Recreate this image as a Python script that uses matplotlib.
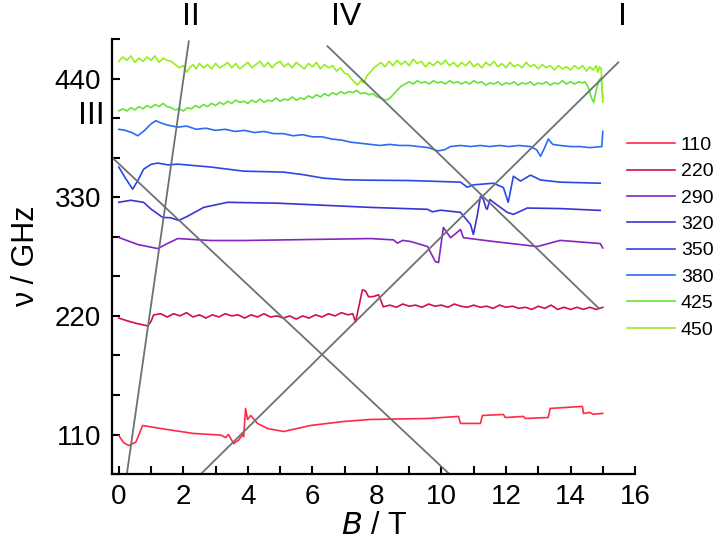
import numpy as np
import matplotlib
matplotlib.use("Agg")
import matplotlib.pyplot as plt
from matplotlib.ticker import MultipleLocator, FixedLocator, FuncFormatter

plt.rcParams['font.family'] = ['Liberation Sans', 'DejaVu Sans']

#%% spectra (B in T, trace offset in GHz units)
freqs = ['110', '220', '290', '320', '350', '380', '425', '450']
colors = ['#ff2a45', '#d0104f', '#8424c4', '#3a34d4', '#2a48e6', '#2a6cf2', '#66e23a', '#96ee1c']

b_110 = [0.0, 0.15, 0.31, 0.53, 0.74, 1.3, 2.32, 3.16, 3.31, 3.4, 3.56, 3.72, 3.84, 3.87, 3.93,
         3.99, 4.09, 4.3, 4.61, 5.11, 5.94, 6.97, 7.8, 9.57, 10.53, 10.59, 11.21, 11.27, 11.92,
         11.98, 12.54, 12.6, 13.31, 13.37, 14.37, 14.4, 14.6, 14.7, 15.0]
v_110 = [109, 102.5, 99.8, 103, 118.4, 115.6, 111, 109.5, 107.2, 110, 101.6, 105, 110, 108, 134.2,
         124, 127.7, 120.3, 115.6, 112.8, 118.4, 122.1, 124, 124.9, 126.8, 120.3, 120.3, 127.7, 128.6,
         125.8, 126.8, 124.9, 125.8, 134.2, 136.1, 129.6, 130.5, 128.8, 129.6]

b_220 = [0.0, 0.2, 0.37, 0.55, 0.7, 0.9, 1.0, 1.08, 1.3, 1.5, 1.7, 1.9, 2.1, 2.3, 2.5, 2.7, 2.9,
         3.1, 3.3, 3.5, 3.7, 3.9, 4.1, 4.3, 4.5, 4.7, 4.9, 5.1, 5.3, 5.5, 5.7, 5.9, 6.1, 6.3, 6.5,
         6.7, 6.9, 7.1, 7.25, 7.34, 7.45, 7.55, 7.65, 7.74, 7.9, 8.05, 8.2, 8.4, 8.6, 8.8, 9.0,
         9.2, 9.4, 9.6, 9.8, 10.0, 10.2, 10.4, 10.6, 10.8, 11.0, 11.2, 11.4, 11.6, 11.8, 12.0,
         12.2, 12.4, 12.6, 12.8, 13.0, 13.2, 13.4, 13.6, 13.8, 14.0, 14.2, 14.4, 14.6, 14.8, 15.0]
v_220 = [218, 216, 214.5, 213, 212, 210.7, 215, 220.9, 222, 219, 222, 220, 223, 219, 221, 218, 221,
         219, 222, 220, 221, 218, 221, 219, 222, 219, 220, 218, 220, 217, 220, 218, 221, 219, 222,
         220, 223, 221, 222, 214.4, 230, 244.2, 243, 237.7, 238, 239.6, 228.4, 230, 228, 231, 229,
         230, 228, 231, 229, 230, 228, 231, 229, 228, 230, 228, 229, 227, 230, 228,
         229, 227, 228, 226, 229, 227, 230, 226, 228, 226, 228, 226, 228, 226, 228]

b_290 = [0.0, 0.59, 1.21, 1.5, 1.83, 2.85, 3.87, 7.8, 8.51, 8.64, 8.8, 9.04, 9.57, 9.81, 9.91,
         10.06, 10.28, 10.43, 10.59, 10.68, 11.61, 12.97, 13.68, 14.92, 15.0]
v_290 = [292.7, 286.2, 282.4, 287, 291.7, 289.9, 289.9, 291.7, 290.5, 287.5, 290, 289, 284.3, 270.3, 269.5,
         302, 292.5, 296, 300.1, 292.5, 289, 284.3, 290, 287.1, 283]

b_320 = [0.0, 0.37, 0.77, 1.0, 1.36, 1.61, 1.86, 2.14, 2.63, 3.37, 4.92, 7.8, 9.57, 9.72, 9.97,
         10.59, 10.9, 10.99, 11.11, 11.21, 11.3, 11.38, 11.42, 11.5, 11.61, 12.04, 12.23, 12.66,
         13.68, 14.92]
v_320 = [325.3, 327.2, 325.3, 319, 311.3, 311, 308.5, 312.5, 320.6, 325.3, 324.5, 320.6, 318.8, 316.5, 318,
         316, 304.8, 295.5, 313, 330.9, 328, 320, 318.8, 328, 325.3, 316, 314.1, 320,
         319.5, 317.8]

b_350 = [0.0, 0.2, 0.43, 0.6, 0.77, 1.0, 1.21, 1.52, 1.83, 2.85, 3.87, 5.11, 5.7, 6.35, 7.0, 7.8,
         9.0, 10.59, 10.8, 10.99, 11.61, 11.92, 12.07, 12.23, 12.45, 12.76, 13.07, 13.68, 14.92]
v_350 = [358, 348, 337.5, 346, 356, 360.5, 361.7, 360, 360.7, 358, 354.2, 353.3, 351, 347.7, 346.2, 345.8,
         345.5, 344, 339.3, 341.5, 343, 339, 325.3, 349.5, 345, 350.5, 346, 344, 343]

b_380 = [0.0, 0.2, 0.4, 0.59, 0.8, 1.0, 1.15, 1.3, 1.5, 1.83, 2.1, 2.4, 2.7, 3.0, 3.3, 3.6, 3.9,
         4.2, 4.5, 4.8, 5.1, 5.4, 5.7, 6.0, 6.3, 6.6, 6.9, 7.2, 7.5, 7.8, 8.1, 8.4, 8.7, 9.0, 9.3,
         9.6, 9.88, 10.1, 10.28, 10.6, 10.9, 11.2, 11.5, 11.8, 12.1, 12.4, 12.76, 12.95, 13.07,
         13.2, 13.31, 13.45, 13.68, 14.0, 14.3, 14.6, 14.97, 15.0]
v_380 = [393, 392, 390, 387, 392, 398, 401, 399, 397, 395, 396, 393, 394, 392, 393, 391, 392,
         390, 391, 389, 389, 387, 388, 386, 386, 384, 383, 381, 380, 379, 378, 379, 378, 378, 377,
         376, 373, 374, 377, 378, 377, 378, 377, 378, 377, 378, 377, 374, 368,
         376, 384, 379, 378, 377, 377, 376, 377, 391]

# the two noisy top traces as (B, v) pairs
pts_425 = [(0.0, 410), (0.125, 412), (0.25, 410), (0.375, 413), (0.5, 411), (0.625, 414),
           (0.75, 412), (0.875, 415), (1.0, 413), (1.125, 416), (1.25, 414), (1.375, 417),
           (1.5, 414), (1.625, 413), (1.75, 411), (1.875, 412), (2.0, 410), (2.125, 413),
           (2.25, 412), (2.375, 415), (2.5, 413), (2.625, 416), (2.75, 414), (2.875, 417),
           (3.0, 415), (3.125, 418), (3.25, 416), (3.375, 419), (3.5, 417), (3.625, 420),
           (3.75, 418), (3.875, 419), (4.0, 417), (4.125, 420), (4.25, 418), (4.375, 421),
           (4.5, 418), (4.625, 420), (4.75, 419), (4.875, 422), (5.0, 419), (5.125, 421),
           (5.25, 420), (5.375, 423), (5.5, 420), (5.625, 422), (5.75, 421), (5.875, 424),
           (6.0, 422), (6.125, 425), (6.25, 423), (6.375, 426), (6.5, 424), (6.625, 427),
           (6.75, 425), (6.875, 428), (7.0, 426), (7.125, 428), (7.25, 427), (7.375, 429),
           (7.5, 426), (7.625, 427), (7.75, 425), (7.875, 426), (8.0, 423), (8.125, 422),
           (8.25, 420), (8.375, 421), (8.5, 425), (8.625, 429), (8.75, 433), (8.875, 435),
           (9.0, 437), (9.125, 435), (9.25, 438), (9.375, 436), (9.5, 437), (9.625, 435),
           (9.75, 438), (9.875, 436), (10.0, 437), (10.125, 435), (10.25, 438), (10.375, 436),
           (10.5, 437), (10.625, 435), (10.75, 437), (10.875, 435), (11.0, 438), (11.125, 436),
           (11.25, 437), (11.375, 434), (11.5, 436), (11.625, 435), (11.75, 437), (11.875, 434),
           (12.0, 436), (12.125, 435), (12.25, 437), (12.375, 434), (12.5, 436), (12.625, 435),
           (12.75, 437), (12.875, 434), (13.0, 436), (13.125, 435), (13.25, 437), (13.375, 434),
           (13.5, 436), (13.625, 435), (13.75, 438), (13.875, 435), (14.0, 437), (14.125, 435),
           (14.25, 437), (14.375, 436), (14.45, 437), (14.55, 432), (14.65, 422), (14.72, 418),
           (14.8, 430), (14.88, 438), (14.95, 441), (15.0, 422)]

pts_450 = [(0.0, 456), (0.125, 460), (0.25, 457), (0.375, 461), (0.5, 455), (0.625, 459),
           (0.75, 456), (0.875, 460), (1.0, 457), (1.125, 461), (1.25, 455), (1.375, 459),
           (1.5, 457), (1.625, 456), (1.75, 453), (1.875, 450), (2.0, 452), (2.1, 446),
           (2.2, 450), (2.3, 453), (2.4, 449), (2.5, 454), (2.625, 450), (2.75, 453),
           (2.875, 449), (3.0, 454), (3.125, 450), (3.25, 452), (3.375, 455), (3.5, 450),
           (3.625, 454), (3.75, 449), (3.875, 452), (4.0, 455), (4.125, 450), (4.25, 453),
           (4.375, 456), (4.5, 451), (4.625, 455), (4.75, 450), (4.875, 454), (5.0, 456),
           (5.125, 451), (5.25, 454), (5.375, 450), (5.5, 455), (5.625, 452), (5.75, 449),
           (5.875, 454), (6.0, 451), (6.125, 455), (6.25, 449), (6.375, 453), (6.5, 450),
           (6.625, 452), (6.75, 447), (6.875, 450), (7.0, 445), (7.1, 444), (7.2, 440),
           (7.3, 437), (7.4, 434), (7.5, 438), (7.6, 436), (7.7, 443), (7.8, 446),
           (7.9, 450), (8.0, 452), (8.125, 455), (8.25, 451), (8.375, 456), (8.5, 452),
           (8.625, 457), (8.75, 453), (8.875, 456), (9.0, 452), (9.125, 458), (9.25, 454),
           (9.375, 456), (9.5, 451), (9.625, 455), (9.75, 452), (9.875, 456), (10.0, 453),
           (10.125, 457), (10.25, 452), (10.375, 455), (10.5, 451), (10.625, 455), (10.75, 452),
           (10.875, 456), (11.0, 451), (11.125, 454), (11.25, 450), (11.375, 455), (11.5, 452),
           (11.625, 456), (11.75, 451), (11.875, 454), (12.0, 450), (12.125, 455), (12.25, 451),
           (12.375, 453), (12.5, 450), (12.625, 455), (12.75, 451), (12.875, 453), (13.0, 449),
           (13.125, 453), (13.25, 450), (13.375, 452), (13.5, 448), (13.625, 452), (13.75, 449),
           (13.875, 451), (14.0, 448), (14.125, 452), (14.25, 449), (14.375, 452), (14.5, 447),
           (14.6, 451), (14.7, 448), (14.8, 452), (14.85, 446), (14.9, 451), (14.95, 449),
           (15.0, 418)]

b_425 = [p[0] for p in pts_425]
v_425 = [p[1] for p in pts_425]
b_450 = [p[0] for p in pts_450]
v_450 = [p[1] for p in pts_450]

traces_b = [b_110, b_220, b_290, b_320, b_350, b_380, b_425, b_450]
traces_v = [v_110, v_220, v_290, v_320, v_350, v_380, v_425, v_450]

# resonance branches (end points)
branch_names = ['I', 'II', 'III', 'IV']
branch_b = [[2.54, 15.48], [0.25, 2.17], [-0.19, 10.25], [6.47, 14.86]]
branch_v = [[73.3, 455], [73.3, 474.5], [366.4, 73.3], [470, 227.5]]
label_b = [15.6, 2.23, -0.85, 7.06]
label_v = [497.5, 497.5, 405.0, 497.5]

#%% plot
fig = plt.figure(figsize=(7.2, 5.5), dpi=100)
ax = fig.add_axes([0.156, 0.138, 0.726, 0.791])

for b, v, c, f in zip(traces_b, traces_v, colors, freqs):
    ax.plot(b, v, color=c, lw=1.2, label=f)

for b, v in zip(branch_b, branch_v):
    ax.plot(b, v, color='#6b7272', lw=1.3)

for name, b, v in zip(branch_names, label_b, label_v):
    ax.text(b, v, name, fontsize=23, ha='center', va='center', clip_on=False)

ax.set_xlim(-0.2, 16)
ax.set_ylim(110 * 2 / 3, 110 * 13 / 3)

ax.xaxis.set_major_locator(MultipleLocator(2))
ax.xaxis.set_minor_locator(MultipleLocator(1))
ax.yaxis.set_major_locator(FixedLocator(np.arange(2, 14) * 110 / 3))
ax.yaxis.set_major_formatter(FuncFormatter(
    lambda y, p: '%d' % round(y) if abs(y / 110 - round(y / 110)) < 1e-6 else ''))

for s in ['top', 'right']:
    ax.spines[s].set_visible(False)
for s in ['left', 'bottom']:
    ax.spines[s].set_linewidth(1.6)
ax.tick_params(which='both', direction='in', length=6, width=1.5, labelsize=20)
ax.tick_params(axis='x', pad=7)
ax.tick_params(axis='y', pad=8)

ax.set_xlabel(r'$B$ / T', fontsize=22, labelpad=1)
ax.set_ylabel('ν / GHz', fontsize=22, labelpad=10)

ax.legend(loc='upper left', bbox_to_anchor=(0.871, 0.752), bbox_transform=fig.transFigure,
          frameon=False, fontsize=14, handlelength=2.47, handletextpad=0.3, labelspacing=0.45,
          borderaxespad=0, borderpad=0)

fig.savefig('out.png', dpi=100)
